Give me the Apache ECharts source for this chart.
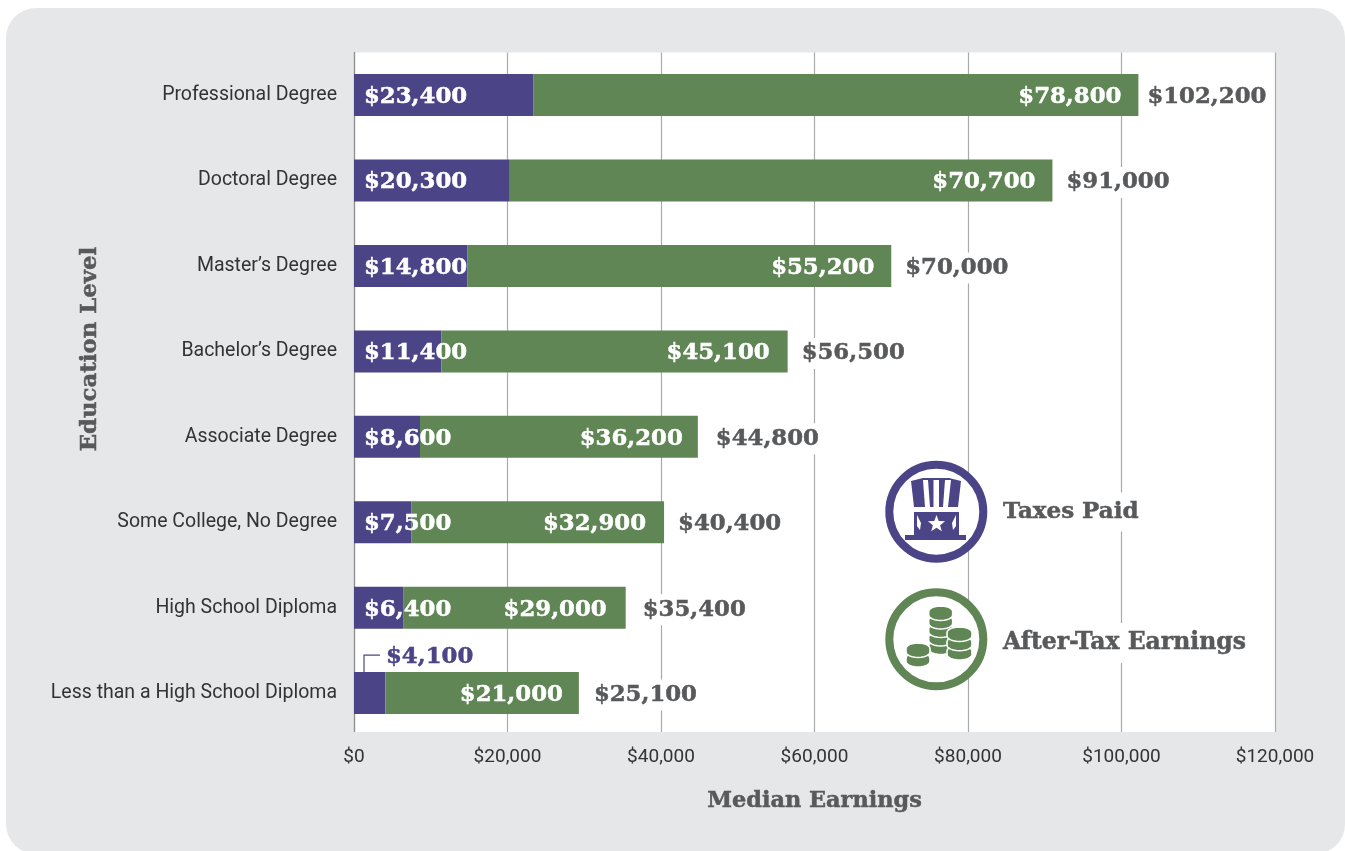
<!DOCTYPE html>
<html><head><meta charset="utf-8">
<script src="https://cdn.jsdelivr.net/npm/echarts@6/dist/echarts.min.js"></script>
<style>html,body{margin:0;padding:0;background:#fff}#c{width:1345px;height:851px}</style>
</head><body><div id="c"></div>
<script>
const categories = ["Professional Degree","Doctoral Degree","Master’s Degree","Bachelor’s Degree","Associate Degree","Some College, No Degree","High School Diploma","Less than a High School Diploma"];
const taxesPaid = [23400,20300,14800,11400,8600,7500,6400,4100];
// Printed values of the green segments
const afterTaxPrinted = [78800,70700,55200,45100,36200,32900,29000,21000];
// Green segment lengths as drawn (the last bar in the picture is longer than its printed value)
const afterTaxDrawn = [78800,70700,55200,45100,36200,32900,29000,25200];
const totals = [102200,91000,70000,56500,44800,40400,35400,25100];
const xTicks = [0,20000,40000,60000,80000,100000,120000];

const PURPLE='#4b4588', GREEN='#5f8654', GREY='#58595b', PANEL='#e6e7e8';
const SLAB='"DejaVu Serif"', NARROW='Roboto';
const money=v=>'$'+Number(v).toLocaleString('en-US');
const totalGaps=[9,14,14,14,18,14,17,15];
const insideGaps=[17,17,17,18,15,18,19,16];

const bold={fontFamily:SLAB,fontWeight:'bold',fontSize:22.8};
const heavy=c=>({color:c,textBorderColor:c,textBorderWidth:0.5});

function coin(x,y,w,h,t){
  const pts=[];
  for(let a=180;a<=360;a+=15){const r=a*Math.PI/180;pts.push([x+w*Math.cos(r),y+h*Math.sin(r)]);}
  for(let a=0;a<=180;a+=15){const r=a*Math.PI/180;pts.push([x+w*Math.cos(r),y+t+h*Math.sin(r)]);}
  return {type:'polygon',z:60,shape:{points:pts},style:{fill:GREEN,stroke:'#fff',lineWidth:1.6}};
}
function stack(x,yTop,n,w,h,t,step){
  const out=[];
  for(let i=n-1;i>=0;i--) out.push(coin(x,yTop+i*step,w,h,t));
  return out;
}
function star(cx,cy,R){
  const pts=[];
  for(let i=0;i<10;i++){const r=i%2?R*0.42:R,a=(-90+36*i)*Math.PI/180;pts.push([cx+r*Math.cos(a),cy+r*Math.sin(a)]);}
  return {type:'polygon',z:61,shape:{points:pts},style:{fill:'#fff'}};
}
const C1=[936.3,511.7], C2=[936.3,639.3];
const hat=[
  {type:'circle',z:50,shape:{cx:C1[0],cy:C1[1],r:47},style:{fill:'#fff',stroke:PURPLE,lineWidth:8}},
  {type:'polygon',z:60,shape:{points:[[911,481],[923,478],[949,478],[961,481],[958,507],[914,507]]},style:{fill:PURPLE}},
  {type:'polygon',z:61,shape:{points:[[923,480],[928,480],[930,507],[925,507]]},style:{fill:'#fff'}},
  {type:'polygon',z:61,shape:{points:[[933.5,480],[939,480],[939,507],[933.5,507]]},style:{fill:'#fff'}},
  {type:'polygon',z:61,shape:{points:[[945,480],[951,480],[948,507],[943,507]]},style:{fill:'#fff'}},
  {type:'polygon',z:60,shape:{points:[[914,512],[959,512],[959,535],[914,535]]},style:{fill:PURPLE}},
  {type:'rect',z:60,shape:{x:905,y:535,width:61,height:5},style:{fill:PURPLE}},
  star(936.5,524,9),
  {type:'polygon',z:61,shape:{points:[[917,515],[921,523],[920,530],[917,526]]},style:{fill:'#fff'}},
  {type:'polygon',z:61,shape:{points:[[956,515],[952,523],[953,530],[956,526]]},style:{fill:'#fff'}}
];
const coins=[
  {type:'circle',z:50,shape:{cx:C2[0],cy:C2[1],r:47},style:{fill:'#fff',stroke:GREEN,lineWidth:8}},
  ...stack(940.7,611.5,5,12,5.5,3.5,8.5),
  ...stack(959.5,632.5,3,12.5,5.5,3.5,9.25),
  ...stack(918,648.5,2,12,5.5,3.5,9.5)
];
function legendText(t,y,size){
  return {type:'text',z:70,x:1003,y:y,style:{text:t,fill:GREY,stroke:GREY,lineWidth:0.5,font:'bold '+size+'px '+SLAB,verticalAlign:'middle',
    backgroundColor:'#fff',padding:[8,0,8,0]}};
}

const chart=echarts.init(document.getElementById('c'),null,{renderer:'canvas'});
chart.setOption({
  animation:false,
  backgroundColor:'#fff',
  grid:{left:354,width:921,top:52.4,height:683.4,show:true,backgroundColor:'#fff',borderWidth:0,outerBoundsMode:'none'},
  xAxis:{type:'value',min:0,max:120000,interval:20000,
    axisLabel:{formatter:v=>money(xTicks[xTicks.indexOf(v)]),color:'#333',fontFamily:NARROW,fontSize:19,margin:12},
    axisLine:{show:false},axisTick:{show:false},
    splitLine:{show:true,lineStyle:{color:'#a9aaac',width:1.2}},
    name:'Median Earnings',nameLocation:'middle',nameGap:54,nameMoveOverlap:false,
    nameTextStyle:{...bold,fontSize:22.4,...heavy(GREY)}},
  yAxis:{type:'category',inverse:true,data:categories,
    axisLabel:{color:'#333',fontFamily:NARROW,fontSize:19.5,margin:17,padding:[0,0,8,0]},
    axisLine:{show:true,lineStyle:{color:'#8e8f91',width:1.2}},axisTick:{show:false},
    name:'Education Level',nameLocation:'middle',nameGap:252,nameRotate:90,nameMoveOverlap:false,
    nameTextStyle:{...bold,fontSize:22.8,...heavy(GREY),padding:[0,0,0,90]}},
  series:[
    {name:'Taxes Paid',type:'bar',stack:'e',barWidth:42,itemStyle:{color:PURPLE},
     data:taxesPaid.map((v,i)=>i===taxesPaid.length-1?{value:v,label:{position:[32,-29],...heavy(PURPLE)}}:v),
     label:{show:true,position:'insideLeft',distance:10,offset:[0,2],formatter:p=>money(p.value),...bold,...heavy('#fff')}},
    {name:'After-Tax Earnings',type:'bar',stack:'e',barWidth:42,itemStyle:{color:GREEN},
     data:afterTaxDrawn.map((v,i)=>({value:v,label:{distance:insideGaps[i]}})),
     label:{show:true,position:'insideRight',offset:[0,2],formatter:p=>money(afterTaxPrinted[p.dataIndex]),...bold,...heavy('#fff')}},
    {name:'Total',type:'scatter',symbolSize:0,z:5,itemStyle:{opacity:1},
     data:totals.map((v,i)=>({value:[taxesPaid[i]+afterTaxDrawn[i],i],label:{distance:totalGaps[i]}})),
     label:{show:true,opacity:1,position:'right',offset:[0,2],formatter:p=>money(totals[p.dataIndex]),...bold,...heavy(GREY),backgroundColor:'#fff',padding:[4,0,4,0]}},
    {name:'Leader',type:'custom',silent:true,z:5,data:[[0,categories.length-1]],
     encode:{x:0,y:1},
     renderItem:(ctx,api)=>{
       const p=api.coord([api.value(0),api.value(1)]);
       return {type:'polyline',shape:{points:[[p[0]+10,p[1]-21],[p[0]+10,p[1]-38],[p[0]+26,p[1]-38]]},
         style:{fill:null,stroke:PURPLE,lineWidth:1.2}};
     }}
  ],
  graphic:[
    {type:'rect',z:-20,shape:{x:6,y:8,width:1339,height:846,r:30},style:{fill:PANEL}},
    {type:'rect',z:40,shape:{x:345,y:732,width:940,height:6},style:{fill:PANEL}},
    ...hat,...coins,
    legendText('Taxes Paid',512,23),
    legendText('After-Tax Earnings',643,23.5)
  ]
});
</script></body></html>
